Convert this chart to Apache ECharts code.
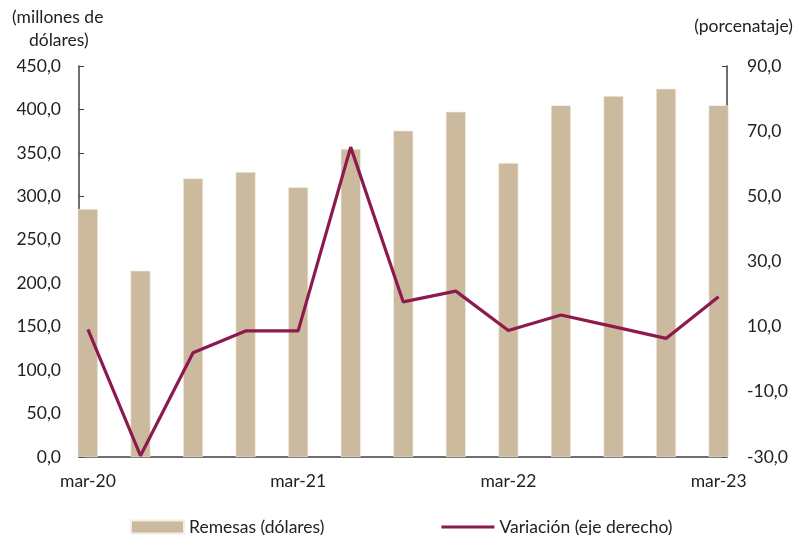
<!DOCTYPE html>
<html>
<head>
<meta charset="utf-8">
<script src="https://cdn.jsdelivr.net/npm/echarts@6/dist/echarts.min.js"></script>
<style>
  html, body { margin: 0; padding: 0; background: #fff; }
  #main { width: 794px; height: 535px; }
</style>
</head>
<body>
<div id="main"></div>
<script>
var categories = ['mar-20', 'jun-20', 'sep-20', 'dic-20', 'mar-21', 'jun-21', 'sep-21', 'dic-21',
  'mar-22', 'jun-22', 'sep-22', 'dic-22', 'mar-23'];
var labelIdx = [0, 4, 8, 12];
var remesas = [285.4, 214.4, 320.7, 328.0, 310.4, 354.5, 375.6, 397.4, 338.4, 404.7, 415.5, 423.9, 404.7];
var variacion = [9.2, -29.6, 2.0, 8.7, 8.7, 65.1, 17.6, 20.9, 8.8, 13.6, 10.0, 6.4, 19.2];

var FONT = 'Lato';
var FS = 17.5;
var fmt = function (v) { return v.toFixed(1).replace('.', ','); };
var nameStyle = { fontFamily: FONT, fontSize: FS, fontWeight: 'normal', color: '#222' };

var myChart = echarts.init(document.getElementById('main'));

var option = {
  animation: false,
  textStyle: { fontFamily: FONT },
  title: [
    { text: '(millones de', left: 12, top: 8, padding: 0, textStyle: nameStyle },
    { text: 'dólares)', left: 29, top: 31, padding: 0, textStyle: nameStyle },
    { text: '(porcenataje)', right: 1, top: 17, padding: 0, textStyle: nameStyle }
  ],
  grid: { left: 79, right: 67, top: 66, bottom: 78 },
  legend: {
    left: 125,
    top: 513,
    itemWidth: 53,
    itemHeight: 13,
    itemGap: 117,
    textStyle: { fontFamily: FONT, fontSize: FS, color: '#222' },
    data: [
      { name: 'Remesas (dólares)', icon: 'rect' },
      { name: 'Variación (eje derecho)', icon: 'path://M0,0L53,0L53,3L0,3Z' }
    ]
  },
  xAxis: {
    type: 'value',
    min: -0.17,
    max: 12.16,
    splitLine: { show: false },
    axisLine: { show: true, onZero: false, lineStyle: { color: '#404040', width: 1.5 } },
    axisTick: { show: true, inside: true, length: 5, customValues: [3.83, 7.83, 11.83], lineStyle: { color: '#404040' } },
    axisLabel: {
      customValues: labelIdx,
      margin: 15,
      fontSize: FS,
      color: '#222',
      formatter: function (v) { return categories[Math.round(v)]; }
    }
  },
  yAxis: [{
    type: 'value',
    min: 0, max: 450, interval: 50,
    splitLine: { show: false },
    axisLine: { show: true, onZero: false, lineStyle: { color: '#404040', width: 1.5 } },
    axisTick: { show: true, inside: true, length: 5, lineStyle: { color: '#404040' } },
    axisLabel: { margin: 18, fontSize: FS, color: '#222', formatter: fmt }
  }, {
    type: 'value',
    min: -30, max: 90, interval: 20,
    splitLine: { show: false },
    axisLine: { show: true, onZero: false, lineStyle: { color: '#404040', width: 1.5 } },
    axisTick: { show: true, inside: true, length: 5, lineStyle: { color: '#404040' } },
    axisLabel: { margin: 20, fontSize: FS, color: '#222', formatter: fmt }
  }],
  series: [{
    name: 'Remesas (dólares)',
    type: 'bar',
    barWidth: 20,
    yAxisIndex: 0,
    itemStyle: { color: '#CBBA9E', borderColor: '#F3EEE6', borderWidth: 0.6 },
    data: remesas.map(function (v, i) { return [i, v]; })
  }, {
    name: 'Variación (eje derecho)',
    type: 'line',
    yAxisIndex: 1,
    symbol: 'none',
    z: 5,
    lineStyle: { color: '#8C1A4F', width: 3.2 },
    itemStyle: { color: '#8C1A4F' },
    data: variacion.map(function (v, i) { return [i, v]; })
  }]
};

myChart.setOption(option);
</script>
</body>
</html>
